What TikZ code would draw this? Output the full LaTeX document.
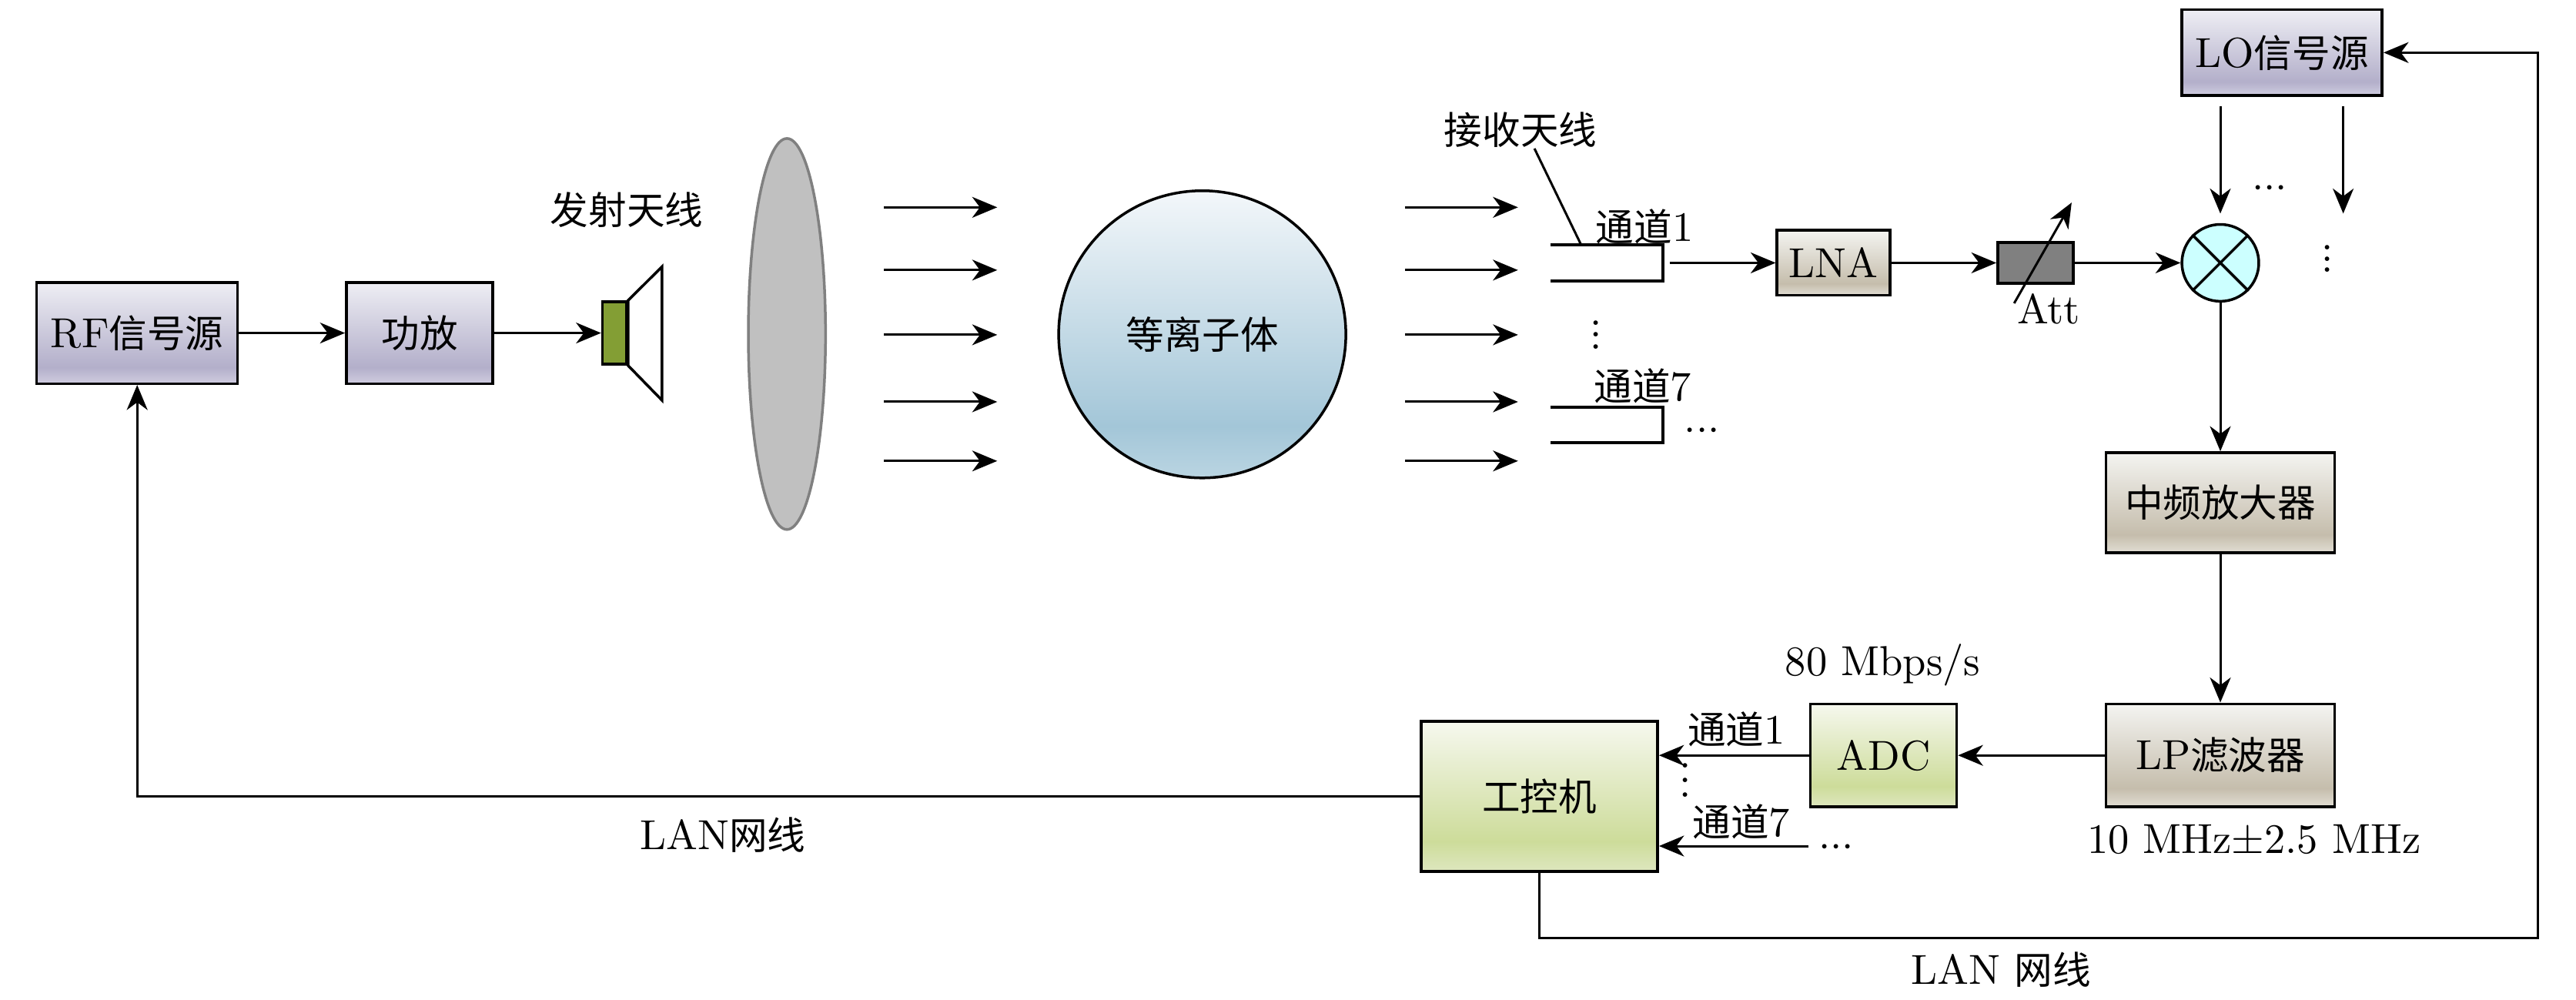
\documentclass[tikz,border=0pt]{standalone}
\usepackage{fontspec}
\newfontfamily\cjk[Scale=0.91]{Noto Sans CJK SC}
\usetikzlibrary{arrows.meta,shapes.geometric}
\newcommand{\zhf}[1]{{\cjk #1}}
\newcommand{\vdts}[1]{\vbox{\baselineskip=#1\lineskiplimit=0pt\hbox{.}\hbox{.}\hbox{.}}}
\newcommand{\hdts}{${\cdot}{\cdot}{\cdot}$}
\definecolor{pT}{HTML}{EEEEF4}\definecolor{pD}{HTML}{B3AFCA}\definecolor{pB}{HTML}{D0CDE0}
\definecolor{bT}{HTML}{F4F4F1}\definecolor{bD}{HTML}{C5BDAC}\definecolor{bB}{HTML}{E2DED4}
\definecolor{gT}{HTML}{F6F8EE}\definecolor{gD}{HTML}{CDDC9A}\definecolor{gB}{HTML}{DEE7BF}
\definecolor{sT}{HTML}{F3F7FA}\definecolor{sD}{HTML}{A3C6D8}\definecolor{sB}{HTML}{BAD5E2}
\definecolor{mixc}{HTML}{CCFFFF}
\definecolor{attc}{HTML}{808080}
\definecolor{lensf}{HTML}{C0C0C0}\definecolor{lensd}{HTML}{808080}
\definecolor{feedc}{RGB}{131,158,52}
\pgfdeclareverticalshading{purpsh}{100bp}{color(0bp)=(pB); color(25bp)=(pB); color(33bp)=(pD); color(75bp)=(pT); color(100bp)=(pT)}
\pgfdeclareverticalshading{beigesh}{100bp}{color(0bp)=(bB); color(25bp)=(bB); color(34bp)=(bD); color(75bp)=(bT); color(100bp)=(bT)}
\pgfdeclareverticalshading{greensh}{100bp}{color(0bp)=(gB); color(25bp)=(gB); color(35bp)=(gD); color(75bp)=(gT); color(100bp)=(gT)}
\pgfdeclareverticalshading{plasmash}{100bp}{color(0bp)=(sB); color(25bp)=(sB); color(34bp)=(sD); color(75bp)=(sT); color(100bp)=(sT)}
\begin{document}
\begin{tikzpicture}[x=0.015cm,y=-0.015cm,
  font=\fontsize{10.9}{13}\selectfont,
  arr/.style={line width=0.6pt,-{Stealth[length=6.5pt,width=5.4pt,inset=2pt]}},
  ln/.style={line width=0.6pt},
  blk/.style={draw,line width=0.7pt,inner sep=0pt,rectangle,shade},
  lbl/.style={inner sep=0pt}]
\useasboundingbox (0,0) rectangle (1568,608.7);

% blocks
\node[blk,shading=purpsh,minimum width=1.835cm,minimum height=0.924cm] (rf) at (83.5,202.7) {RF\zhf{信号源}};
\node[blk,shading=purpsh,minimum width=1.337cm,minimum height=0.924cm] (pa) at (255.4,202.7) {\zhf{功放}};
\node[blk,shading=purpsh,minimum width=1.83cm,minimum height=0.783cm] (lo) at (1389,32) {LO\zhf{信号源}};
\node[blk,shading=beigesh,minimum width=1.03cm,minimum height=0.594cm] (lna) at (1116,160) {LNA};
\node[draw,line width=0.7pt,fill=attc,inner sep=0pt,minimum width=0.69cm,minimum height=0.37cm] (att) at (1239,160) {};
\node[circle,draw,line width=0.7pt,fill=mixc,inner sep=0pt,minimum size=0.702cm] (mix) at (1351.5,160) {};
\draw[line width=0.7pt] (mix.north west) -- (mix.south east) (mix.north east) -- (mix.south west);
\node[blk,shading=beigesh,minimum width=2.085cm,minimum height=0.915cm] (if) at (1351.5,306) {\zhf{中频放大器}};
\node[blk,shading=beigesh,minimum width=2.085cm,minimum height=0.94cm] (lp) at (1351.5,459.8) {LP\zhf{滤波器}};
\node[blk,shading=greensh,minimum width=1.335cm,minimum height=0.94cm] (adc) at (1146.5,459.8) {ADC};
\node[blk,shading=greensh,minimum width=2.16cm,minimum height=1.37cm] (ipc) at (937,484.8) {\zhf{工控机}};

% transmit antenna
\coordinate (hnt) at (403,162.3);
\coordinate (hnb) at (403,243.7);
\node[draw,line width=0.7pt,fill=feedc,inner sep=0pt,minimum width=0.222cm,minimum height=0.57cm] (feed) at (374.1,202.7) {};
\draw[line width=0.7pt,fill=white] (feed.north east) -- (hnt) -- (hnb) -- (feed.south east) -- cycle;
\node[lbl] (txl) at (381.5,127.8) {\zhf{发射天线}};

% lens and plasma
\node[ellipse,draw=lensd,line width=0.7pt,fill=lensf,inner sep=0pt,minimum width=0.705cm,minimum height=3.57cm] (lens) at (479,203.3) {};
\node[circle,draw,line width=0.7pt,shade,shading=plasmash,inner sep=0pt,minimum size=2.622cm] (pl) at (731.8,203.5) {\zhf{等离子体}};

\foreach \yy [count=\i] in {126.2,164.4,203.8,244.6,280.6} {
  \coordinate (la\i) at (538,\yy); \coordinate (lb\i) at (607,\yy);
  \draw[arr] (la\i) -- (lb\i);
  \coordinate (ra\i) at (855.4,\yy); \coordinate (rb\i) at (924,\yy);
  \draw[arr] (ra\i) -- (rb\i);
}

% receive antennas
\node[lbl] (rxl) at (925.6,78.9) {\zhf{接收天线}};
\coordinate (rxa) at (934,90.4);
\coordinate (rxb) at (962.4,149);
\draw[ln] (rxa) -- (rxb);
\coordinate (c1a) at (943.6,149); \coordinate (c1b) at (1012.3,149);
\coordinate (c1c) at (1012.3,171); \coordinate (c1d) at (943.6,171);
\draw[line width=0.8pt] (c1a) -- (c1b) -- (c1c) -- (c1d);
\coordinate (c7a) at (943.6,248); \coordinate (c7b) at (1012.3,248);
\coordinate (c7c) at (1012.3,269.6); \coordinate (c7d) at (943.6,269.6);
\draw[line width=0.8pt] (c7a) -- (c7b) -- (c7c) -- (c7d);
\node[lbl] (ch1) at (1001,138) {\zhf{通道}1};
\node[lbl] (ch7) at (1000,235) {\zhf{通道}7};
\node[lbl] (vd1) at (971.4,203.8) {\vdts{3.1pt}};
\node[lbl] (cd1) at (1036,262.5) {\hdts};
\coordinate (c1o) at (1016.2,160);
\draw[arr] (c1o) -- (lna.west);
\draw[arr] (lna.east) -- (att.west);
\coordinate (atta) at (1226,184.6);
\coordinate (attb) at (1261,123.3);
\draw[arr] (atta) -- (attb);
\node[lbl] (attl) at (1247,188) {Att};
\draw[arr] (att.east) -- (mix.west);

% LO arrows
\coordinate (lo1a) at (1351.5,64.5); \coordinate (lo1b) at (1351.5,130);
\coordinate (lo2a) at (1426.3,64.5); \coordinate (lo2b) at (1426.3,130);
\draw[arr] (lo1a) -- (lo1b);
\draw[arr] (lo2a) -- (lo2b);
\node[lbl] (cd2) at (1381.4,115) {\hdts};
\node[lbl] (vd2) at (1416.8,157.5) {\vdts{2.9pt}};

% IF chain
\draw[arr] (mix.south) -- (if.north);
\draw[arr] (if.south) -- (lp.north);
\draw[arr] (lp.west) -- (adc.east);
\draw[arr] (adc.west) -- (ipc.east |- adc.west);
\coordinate (c7o) at (1101,515);
\draw[arr] (c7o) -- (ipc.east |- c7o);
\node[lbl] (ch1b) at (1057,444) {\zhf{通道}1};
\node[lbl] (ch7b) at (1060,500) {\zhf{通道}7};
\node[lbl] (vd3) at (1026,475) {\vdts{3.8pt}};
\node[lbl] (cd3) at (1117.6,516) {\hdts};
\node[lbl] (rate) at (1146,405) {80 Mbps/s};
\node[lbl] (bw) at (1372,512) {10 MHz$\pm$2.5 MHz};

% transmit chain
\draw[arr] (rf.east) -- (pa.west);
\draw[arr] (pa.east) -- (feed.west);

% LAN lines
\draw[arr] (ipc.west) -| (rf.south);
\node[lbl] (lan1) at (440,508) {LAN\zhf{网线}};
\coordinate (rc) at (1545,571);
\draw[arr] (ipc.south) |- (rc) |- (lo.east);
\node[lbl] (lan2) at (1218,590) {LAN \zhf{网线}};
\end{tikzpicture}
\end{document}
